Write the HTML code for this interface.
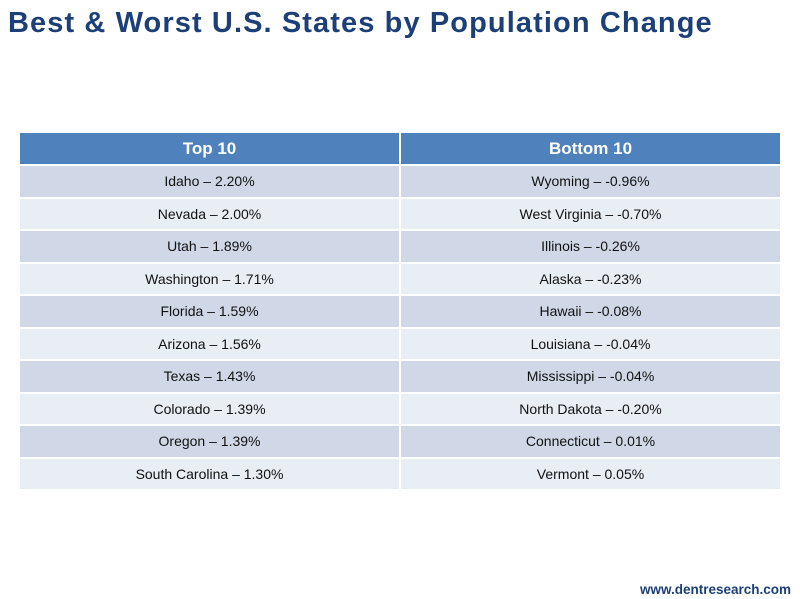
<!DOCTYPE html>
<html><head><meta charset="utf-8"><style>
body{margin:0;width:800px;height:599px;background:#fff;position:relative;font-family:"Liberation Sans",Arial,sans-serif;overflow:hidden}
h1{position:absolute;left:8px;top:7px;margin:0;font-size:29px;letter-spacing:1.1px;font-weight:bold;color:#1c3f78;white-space:nowrap}
table{position:absolute;left:20px;top:133px;width:760px;border-collapse:collapse;table-layout:fixed}
th{background:#4f81bd;color:#fff;font-size:17px;height:31px;padding:0;border-right:2px solid #fff;border-bottom:2px solid #fff}
td{font-size:14px;color:#111;text-align:center;height:30.5px;padding:0;border-right:2px solid #fff;border-bottom:2px solid #fff}
tr:nth-child(odd) td{background:#d0d8e8}
tr:nth-child(even) td{background:#e9edf4}
th:last-child,td:last-child{border-right:none}
.url{position:absolute;left:640px;top:582px;font-size:13.5px;font-weight:bold;color:#1c3f78;white-space:nowrap}
</style></head><body>
<h1>Best &amp; Worst U.S. States by Population Change</h1>
<table>
<thead><tr><th>Top 10</th><th>Bottom 10</th></tr></thead>
<tbody id="tb"></tbody>
</table>
<div class="url">www.dentresearch.com</div>
<script>
const topStates=["Idaho","Nevada","Utah","Washington","Florida","Arizona","Texas","Colorado","Oregon","South Carolina"];
const topValues=["2.20%","2.00%","1.89%","1.71%","1.59%","1.56%","1.43%","1.39%","1.39%","1.30%"];
const bottomStates=["Wyoming","West Virginia","Illinois","Alaska","Hawaii","Louisiana","Mississippi","North Dakota","Connecticut","Vermont"];
const bottomValues=["-0.96%","-0.70%","-0.26%","-0.23%","-0.08%","-0.04%","-0.04%","-0.20%","0.01%","0.05%"];
const tb=document.getElementById('tb');
for(let i=0;i<topStates.length;i++){
  const tr=document.createElement('tr');
  
  
  const a=document.createElement('td');
  
  
  a.textContent=topStates[i]+" \u2013 "+topValues[i];
  const b=document.createElement('td');
  
  
  b.textContent=bottomStates[i]+" \u2013 "+bottomValues[i];
  tr.appendChild(a);tr.appendChild(b);tb.appendChild(tr);
}
</script>
</body></html>
